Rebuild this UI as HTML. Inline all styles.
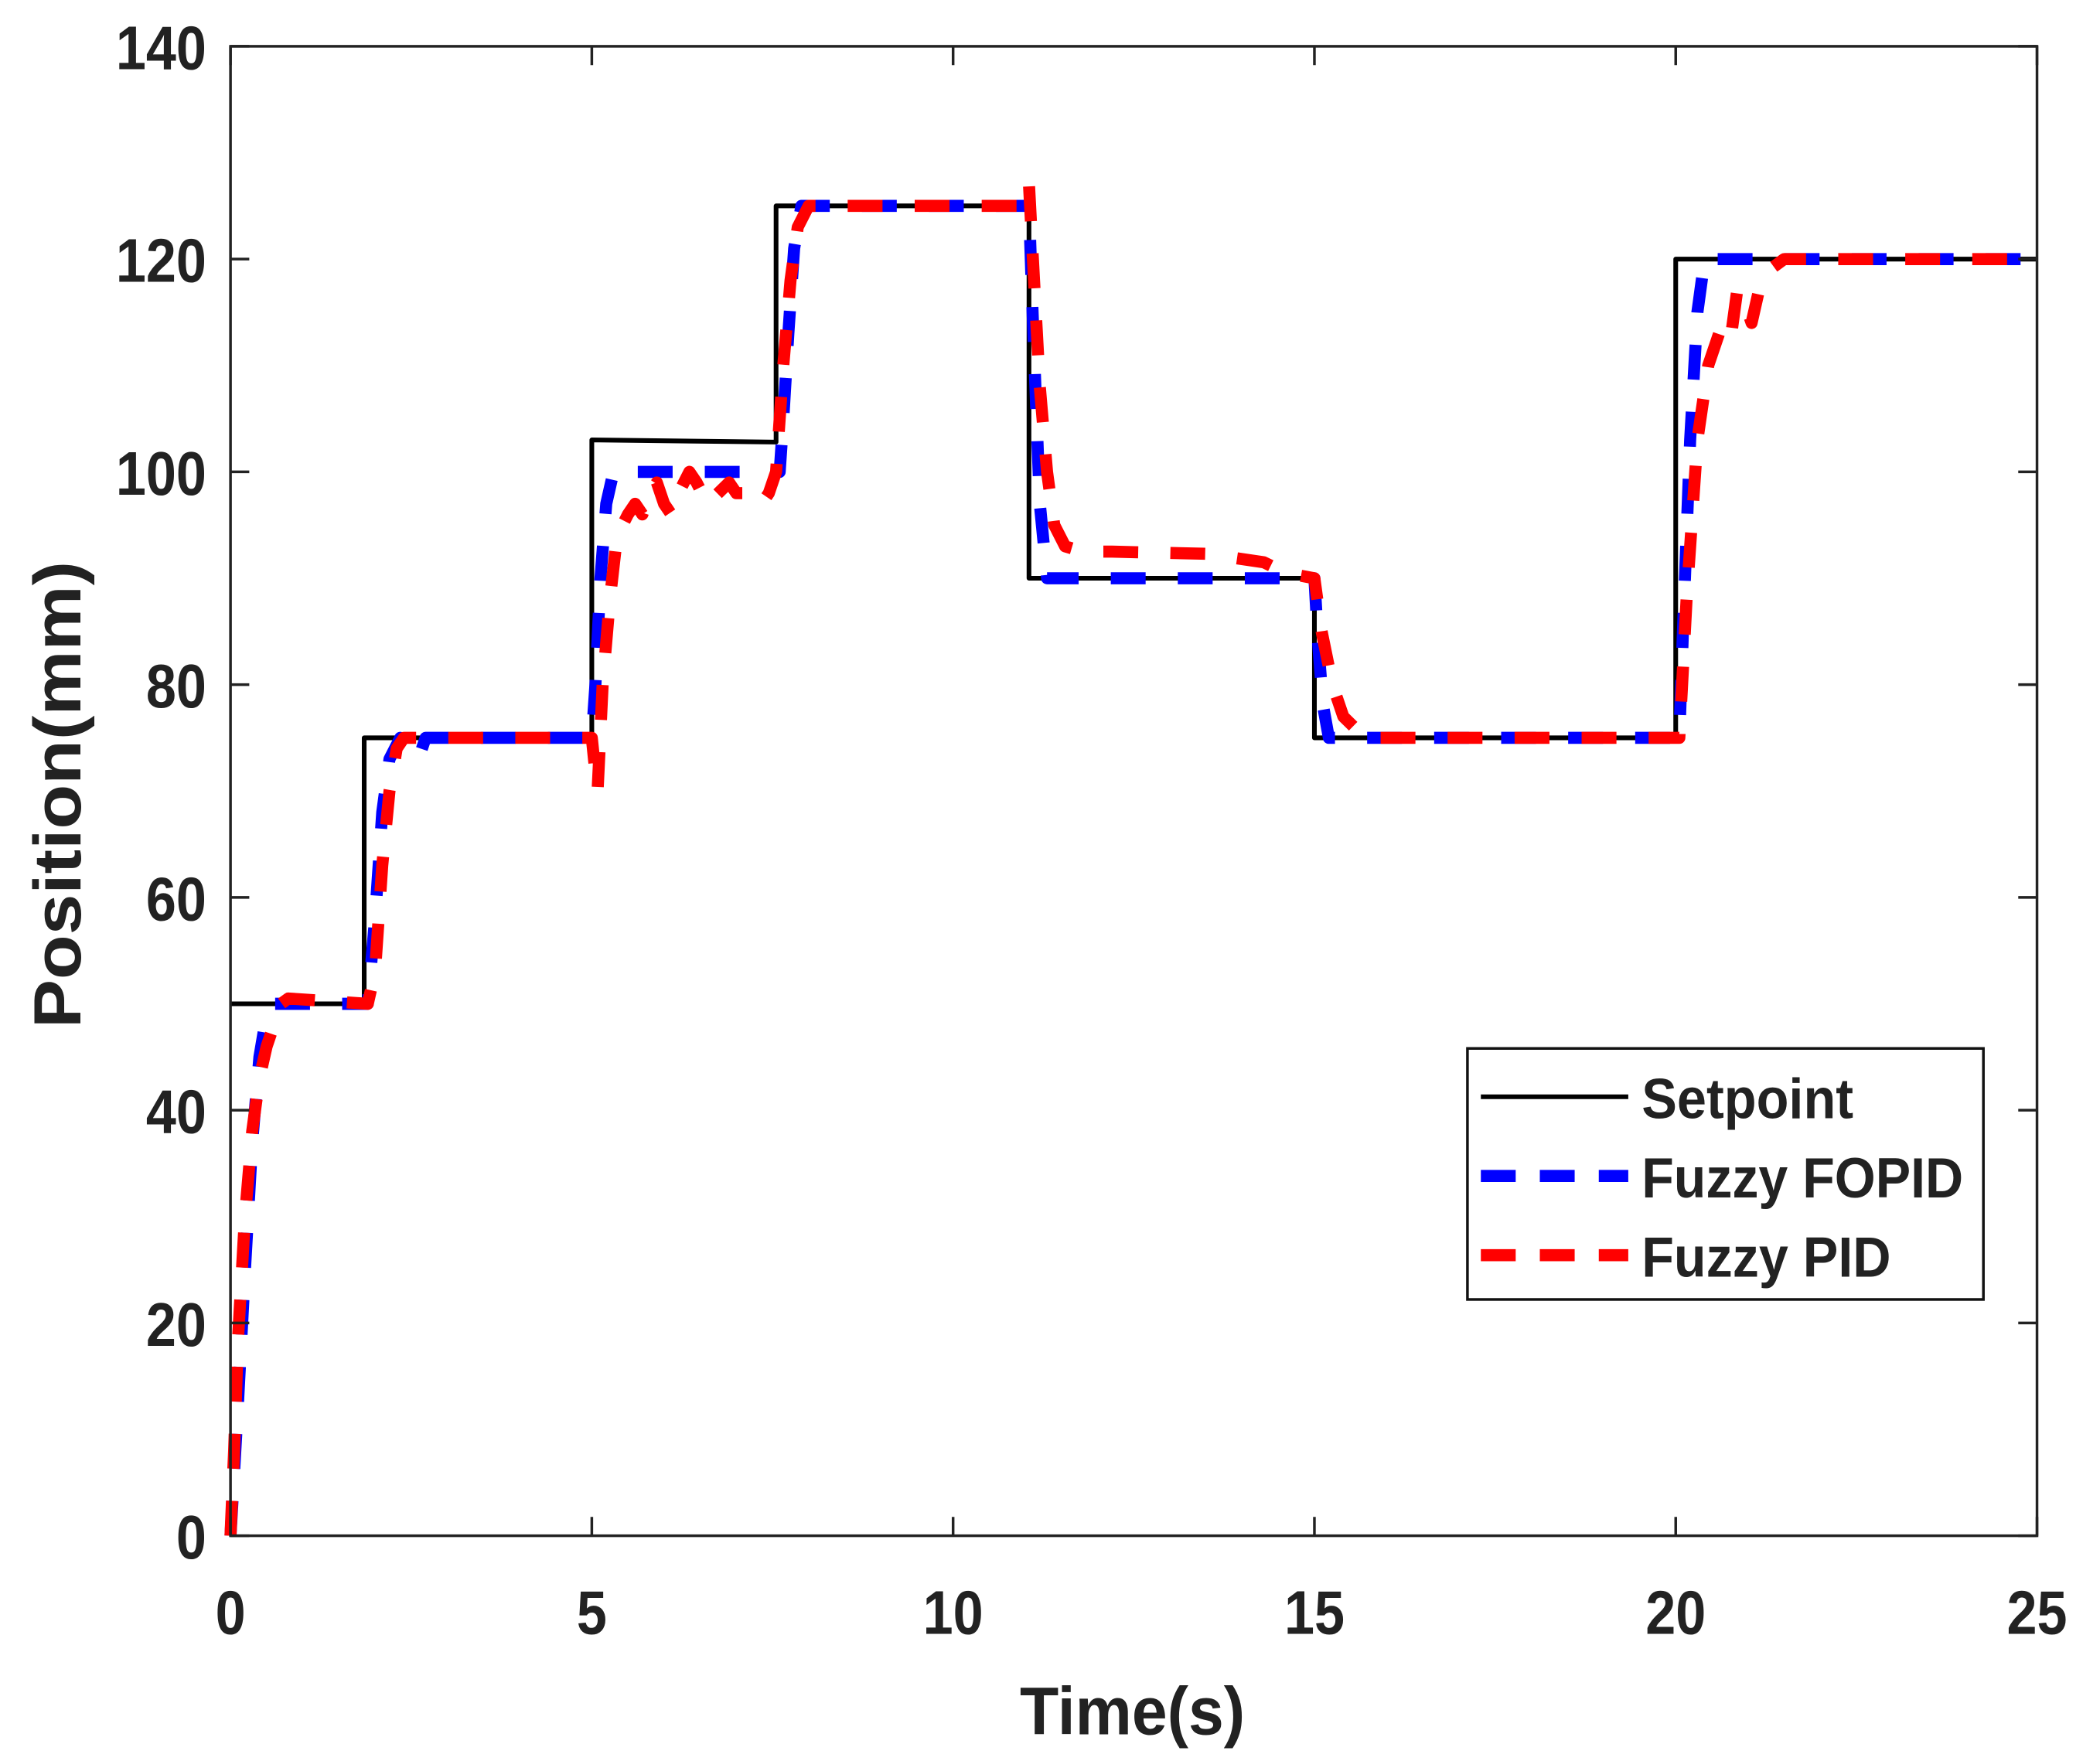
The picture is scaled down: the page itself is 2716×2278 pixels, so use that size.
<!DOCTYPE html>
<html><head><meta charset="utf-8"><style>
html,body{margin:0;padding:0;background:#fff;}
svg{display:block;}
text{font-family:"Liberation Sans",Arial,sans-serif;font-weight:bold;fill:#222;}
</style></head><body>
<svg id="chart" width="2716" height="2278" viewBox="0 0 1567 1311.8" preserveAspectRatio="none" xmlns="http://www.w3.org/2000/svg">
<g id="plot"></g>
<g id="axes"></g>
<text x="845" y="1292" font-size="50" text-anchor="middle" textLength="168" lengthAdjust="spacingAndGlyphs">Time(s)</text>
<text transform="translate(60,592) rotate(-90)" font-size="50" text-anchor="middle" textLength="348" lengthAdjust="spacingAndGlyphs">Position(mm)</text>
<g>
<rect x="1095" y="781" width="385" height="187" fill="#fff" stroke="#111" stroke-width="2"/>
<line x1="1105" y1="817" x2="1215" y2="817" stroke="#000" stroke-width="3.5"/>
<text x="1225" y="833" font-size="42" textLength="158" lengthAdjust="spacingAndGlyphs">Setpoint</text>
<line x1="1105" y1="876" x2="1215" y2="876" stroke="#0000ff" stroke-width="9" stroke-dasharray="26 18"/>
<text x="1225" y="892" font-size="42" textLength="240" lengthAdjust="spacingAndGlyphs">Fuzzy FOPID</text>
<line x1="1105" y1="935" x2="1215" y2="935" stroke="#ff0000" stroke-width="9" stroke-dasharray="26 18"/>
<text x="1225" y="951" font-size="42" textLength="186" lengthAdjust="spacingAndGlyphs">Fuzzy PID</text>
</g>
</svg>
<script>
const xTicks = [0,5,10,15,20,25];
const yTicks = [0,20,40,60,80,100,120,140];
const setT = [0,1.85,1.85,5.0,5.0,7.55,7.55,11.05,11.05,15.0,15.0,20.0,20.0,25];
const setV = [50,50,75,75,103,102.8,125,125,90,90,75,75,120,120];
const fopidT = [0,0.1,0.2,0.3,0.4,0.5,0.6,1.9,2.0,2.1,2.2,2.35,2.5,2.6,2.7,5.0,5.05,5.12,5.2,5.3,7.6,7.65,7.72,7.8,7.9,11.05,11.1,11.2,11.3,15.0,15.05,15.12,15.2,20.05,20.1,20.2,20.3,20.4,25];
const fopidV = [0,12,25,37,45,49,50,50,58,68,73,75,74.5,73,75,75,80,90,97,100,100,105,113,121,125,125,115,97,90,90,84,78,75,75,85,103,115,120,120];
const pidT = [0,0.05,0.1,0.2,0.3,0.4,0.5,0.6,0.7,0.8,1.9,2.0,2.1,2.2,2.3,2.4,5.0,5.03,5.08,5.15,5.25,5.35,5.5,5.6,5.7,5.8,5.9,6.0,6.1,6.2,6.35,6.45,6.6,6.9,7.0,7.2,7.35,7.45,7.55,7.65,7.75,7.85,8.0,11.0,11.05,11.12,11.2,11.3,11.4,11.55,11.8,12.2,13.5,14.3,14.6,15.0,15.1,15.25,15.4,15.55,15.7,20.05,20.15,20.3,20.45,20.6,20.75,20.85,20.95,21.05,21.15,21.3,21.5,25];
const pidV = [0,8,18,30,38,43,46,48,50,50.5,50,53,63,70,74,75,75,73,70,80,88,94,96,97,96,98,99,97,96,98,100,99,97,99,98,98,97,98,100,110,118,123,125,125,127,118,108,100,95,93,92.5,92.5,92.3,91.5,90.5,90,85,80,77,76,75,75,88,103,110,113,112,117,116,114,117,119,120,120];

const X0=172, X1=1520, Y0=1144, Y1=34.5;
const sx = t => X0 + (t-0)/(25-0)*(X1-X0);
const sy = v => Y0 - (v-0)/(140-0)*(Y0-Y1);
const NS="http://www.w3.org/2000/svg";
const plot=document.getElementById('plot'), axes=document.getElementById('axes');

function series(ts, vs, color, w, dash, name){
  const p=document.createElementNS(NS,'path');
  let d=''; ts.forEach((t,i)=>{d+=(i?'L':'M')+sx(t).toFixed(2)+','+sy(vs[i]).toFixed(2);});
  p.setAttribute('d',d);p.setAttribute('fill','none');p.setAttribute('stroke',color);
  p.setAttribute('stroke-width',w);p.setAttribute('stroke-linejoin','round');
  if(dash)p.setAttribute('stroke-dasharray',dash);
  
  
  plot.appendChild(p);
}
series(setT,setV,'#000',3.5,null,'setpoint-line');
series(fopidT,fopidV,'#0000ff',9,'26 24','fuzzy-fopid-line');
series(pidT,pidV,'#ff0000',9,'26 24','fuzzy-pid-line');

const box=document.createElementNS(NS,'rect');
box.setAttribute('x',X0);box.setAttribute('y',Y1);box.setAttribute('width',X1-X0);box.setAttribute('height',Y0-Y1);
box.setAttribute('fill','none');box.setAttribute('stroke','#222');box.setAttribute('stroke-width','2');


axes.appendChild(box);

xTicks.forEach(t=>{
  const x=sx(t);
  const l=document.createElementNS(NS,'path');
  l.setAttribute('d',`M${x},${Y0}V${Y0-14}M${x},${Y1}V${Y1+14}`);
  l.setAttribute('stroke','#222');l.setAttribute('stroke-width','2');
  
  
  axes.appendChild(l);
  const tx=document.createElementNS(NS,'text');
  tx.setAttribute('x',x);tx.setAttribute('y',1217);tx.setAttribute('font-size','46');tx.setAttribute('text-anchor','middle');
  tx.setAttribute('transform',`translate(${x},0) scale(0.88,1) translate(${-x},0)`);
  tx.textContent=t;
  
  
  axes.appendChild(tx);
});
yTicks.forEach(v=>{
  const y=sy(v);
  const l=document.createElementNS(NS,'path');
  l.setAttribute('d',`M${X0},${y}H${X0+14}M${X1},${y}H${X1-14}`);
  l.setAttribute('stroke','#222');l.setAttribute('stroke-width','2');
  
  
  axes.appendChild(l);
  const tx=document.createElementNS(NS,'text');
  tx.setAttribute('x',154);tx.setAttribute('y',y+17);tx.setAttribute('font-size','46');tx.setAttribute('text-anchor','end');
  tx.setAttribute('transform','translate(154,0) scale(0.88,1) translate(-154,0)');
  tx.textContent=v;
  
  
  axes.appendChild(tx);
});
</script>
</body></html>
